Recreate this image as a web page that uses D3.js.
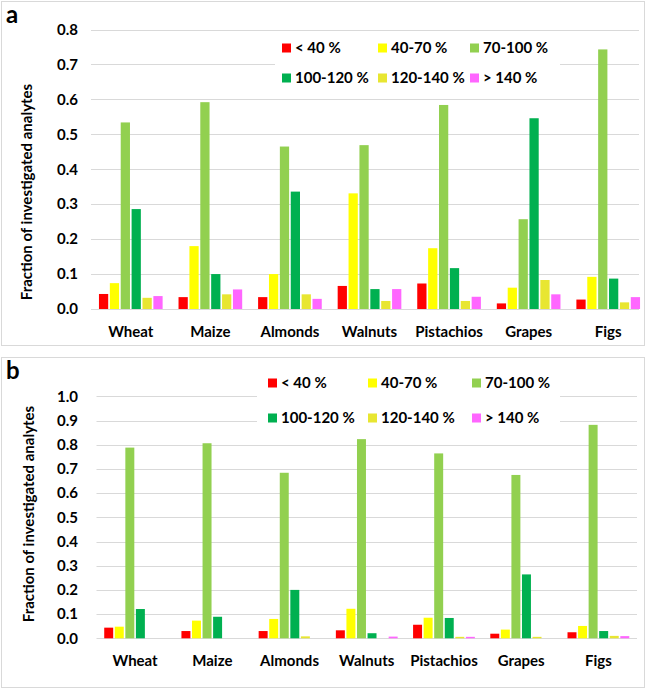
<!DOCTYPE html>
<html>
<head>
<meta charset="utf-8">
<script src="https://cdn.jsdelivr.net/npm/d3@7"></script>
<style>
  body { margin: 0; background: #fff; }
  svg { display: block; font-family: Lato, "Open Sans", sans-serif; }
</style>
</head>
<body>
<svg id="chart" width="649" height="689"></svg>
<script>
// categories and series
const crops = ['Wheat', 'Maize', 'Almonds', 'Walnuts', 'Pistachios', 'Grapes', 'Figs'];
const ranges = ['< 40 %', '40-70 %', '70-100 %', '100-120 %', '120-140 %', '> 140 %'];
const colors = ['#ff0000', '#ffff00', '#92d050', '#00b050', '#e8e631', '#ff66ff'];

// panel a values, one array per recovery range
const aLt40    = [0.043, 0.034, 0.034, 0.066, 0.073, 0.016, 0.027];
const a40to70  = [0.074, 0.180, 0.100, 0.331, 0.174, 0.061, 0.092];
const a70to100 = [0.534, 0.592, 0.465, 0.469, 0.584, 0.257, 0.743];
const a100to120 = [0.286, 0.100, 0.336, 0.057, 0.117, 0.546, 0.087];
const a120to140 = [0.032, 0.042, 0.042, 0.023, 0.023, 0.083, 0.019];
const aGt140   = [0.037, 0.056, 0.029, 0.057, 0.035, 0.042, 0.034];

// panel b values
const bLt40    = [0.044, 0.030, 0.030, 0.033, 0.056, 0.019, 0.025];
const b40to70  = [0.048, 0.073, 0.080, 0.122, 0.085, 0.036, 0.051];
const b70to100 = [0.788, 0.806, 0.684, 0.823, 0.764, 0.675, 0.882];
const b100to120 = [0.121, 0.089, 0.200, 0.021, 0.084, 0.264, 0.030];
const b120to140 = [0.000, 0.000, 0.008, 0.000, 0.006, 0.006, 0.010];
const bGt140   = [0.000, 0.000, 0.000, 0.007, 0.006, 0.000, 0.009];

const ticksA = d3.range(0, 0.81, 0.1);
const ticksB = d3.range(0, 1.01, 0.1);

const svg = d3.select('#chart');

function drawPanel(p) {
  const g = svg.append('g');

  // frame
  g.append('rect')
    .attr('x', p.box[0] + 0.5).attr('y', p.box[1] + 0.5)
    .attr('width', p.box[2]).attr('height', p.box[3])
    .attr('fill', '#fff').attr('stroke', '#d9d9d9');

  g.append('text')
    .attr('x', p.box[0] + 5).attr('y', p.box[1] + 22)
    .attr('font-size', 24).attr('font-weight', 700)
    .text(p.letter);

  const y = d3.scaleLinear().domain([0, p.max]).range([p.y0, p.y1]);
  const x = d3.scaleBand().domain(crops).range(p.xr)
    .paddingInner(0.2).paddingOuter(0.1);
  const xs = d3.scaleBand().domain(ranges).range([0, x.bandwidth()]).paddingInner(0.15);

  // gridlines
  g.selectAll('line.grid').data(p.ticks).join('line')
    .attr('x1', p.xr[0]).attr('x2', p.gridEnd)
    .attr('y1', d => Math.round(y(d)) + 0.5).attr('y2', d => Math.round(y(d)) + 0.5)
    .attr('stroke', '#d9d9d9');

  g.selectAll('text.tick').data(p.ticks).join('text')
    .attr('x', 78).attr('y', d => y(d)).attr('dy', '0.35em')
    .attr('text-anchor', 'end').attr('font-size', 15).attr('font-weight', 700)
    .text(d3.format('.1f'));

  // legend (white box hides gridlines)
  const lg = g.append('g');
  lg.append('rect')
    .attr('x', p.legBox[0]).attr('y', p.legBox[1])
    .attr('width', p.legBox[2]).attr('height', p.legBox[3])
    .attr('fill', '#fff');
  ranges.forEach((r, i) => {
    const row = Math.floor(i / 3), col = i % 3;
    const lx = p.legX[col], ly = p.legY[row];
    lg.append('rect').attr('x', lx).attr('y', ly - 4.5)
      .attr('width', 9).attr('height', 9).attr('fill', colors[i]);
    lg.append('text').attr('x', lx + 13).attr('y', ly).attr('dy', '0.35em')
      .attr('font-size', 15).attr('font-weight', 700).text(r);
  });

  // bars
  crops.forEach((c, ci) => {
    p.series.forEach((s, si) => {
      if (s[ci] <= 0) return;
      g.append('rect')
        .attr('x', x(c) + xs(ranges[si]))
        .attr('y', y(s[ci]))
        .attr('width', xs.bandwidth())
        .attr('height', y(0) - y(s[ci]))
        .attr('fill', colors[si]);
    });
  });

  g.selectAll('text.cat').data(crops).join('text')
    .attr('x', d => x(d) + x.bandwidth() / 2).attr('y', p.catY)
    .attr('text-anchor', 'middle').attr('font-size', 15).attr('font-weight', 700)
    .text(d => d);

  g.append('text')
    .attr('transform', `translate(${p.titleX},${p.titleY}) rotate(-90)`)
    .attr('text-anchor', 'middle').attr('dy', '0.35em')
    .attr('font-size', 15).attr('font-weight', 700)
    .text('Fraction of investigated analytes');
}

drawPanel({
  letter: 'a', box: [1, 1, 643, 344], max: 0.8, ticks: ticksA,
  y0: 309, y1: 29.5, xr: [91, 648], gridEnd: 639,
  legBox: [275, 33, 285, 61], legX: [282, 378, 470], legY: [48, 78],
  series: [aLt40, a40to70, a70to100, a100to120, a120to140, aGt140],
  catY: 337, titleX: 27, titleY: 192
});

drawPanel({
  letter: 'b', box: [1, 357, 643, 330], max: 1.0, ticks: ticksB,
  y0: 638.3, y1: 396.3, xr: [96.5, 637], gridEnd: 637,
  legBox: [257, 366, 303, 66], legX: [268, 368, 472], legY: [383, 418],
  series: [bLt40, b40to70, b70to100, b100to120, b120to140, bGt140],
  catY: 666, titleX: 29, titleY: 514
});
</script>
</body>
</html>
